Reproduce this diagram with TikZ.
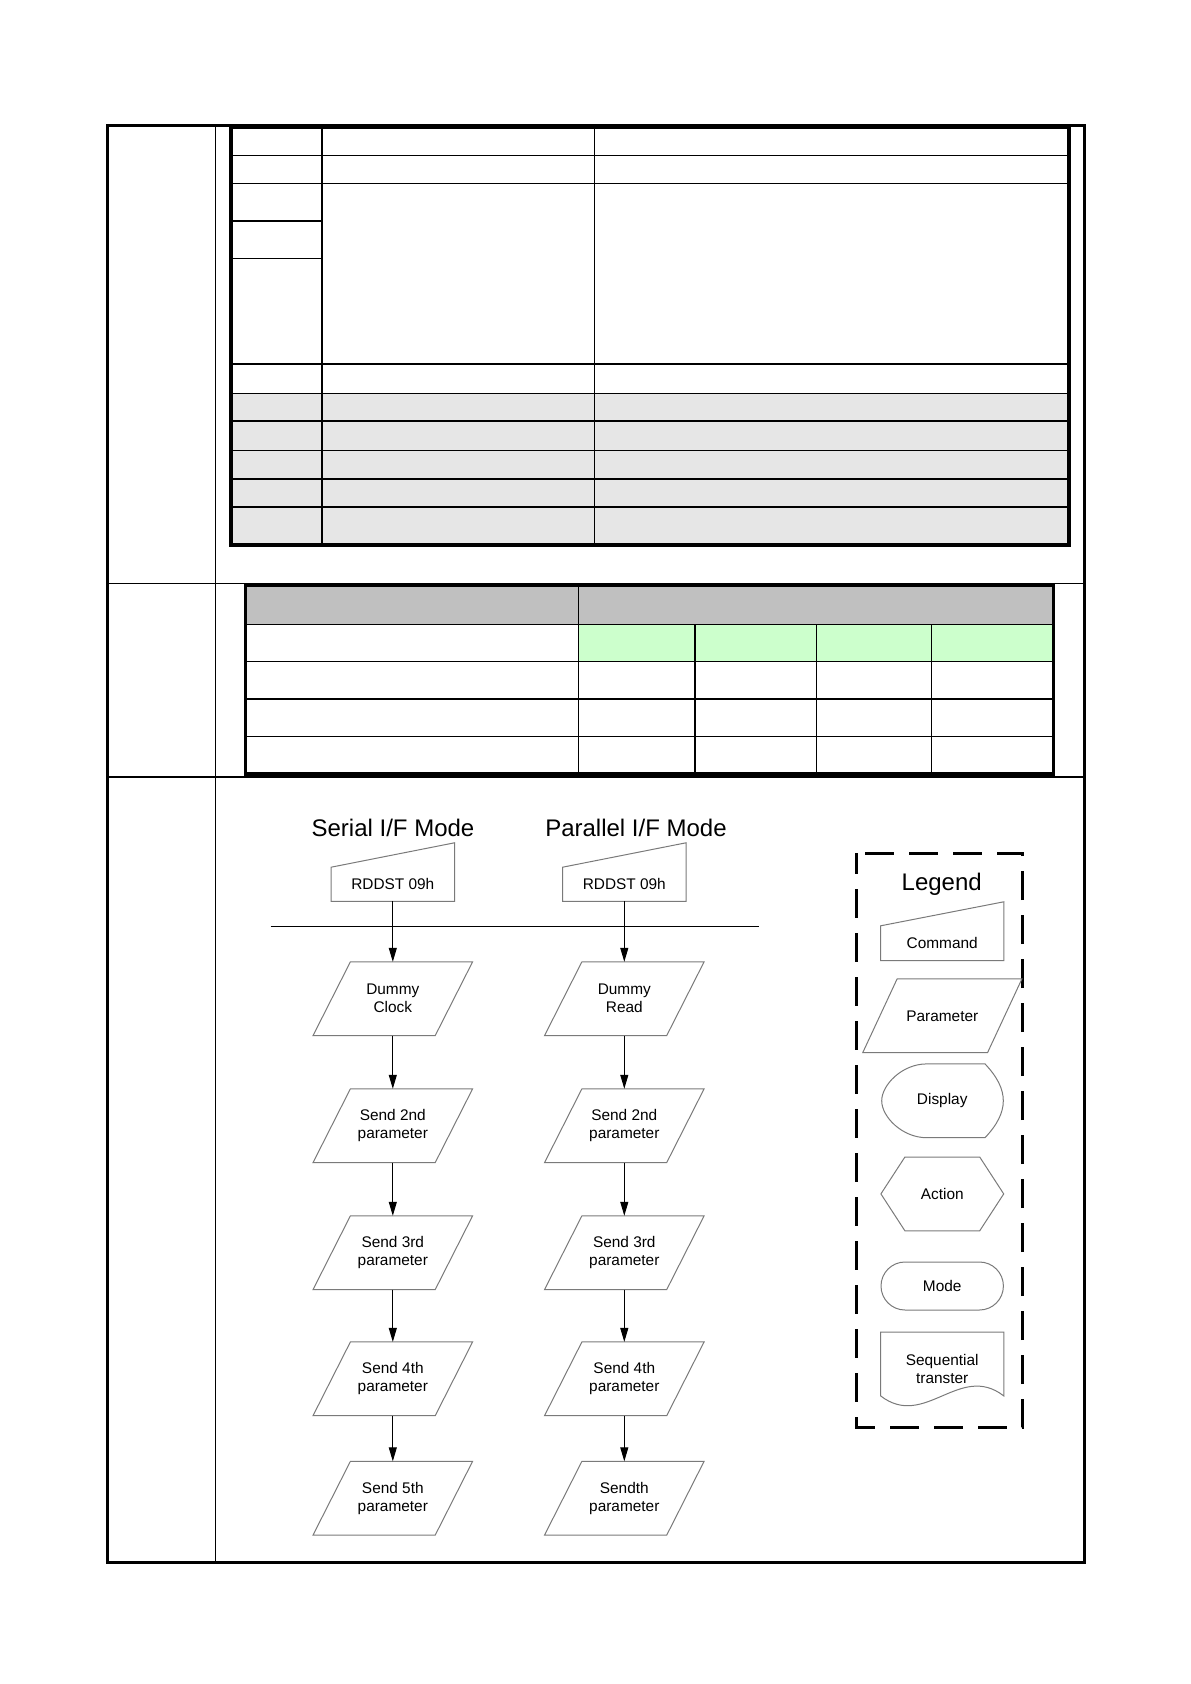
\documentclass[tikz,border=0pt]{standalone}
\usepackage{fontspec}
\setmainfont{Liberation Sans}
\usetikzlibrary{arrows.meta}

\definecolor{hdrgray}{HTML}{C0C0C0}
\definecolor{rowgray}{HTML}{E6E6E6}
\definecolor{okgreen}{HTML}{CCFFCC}
\definecolor{shapegray}{HTML}{7A7A7A}

\tikzset{
  outl/.style={draw=shapegray, line width=0.5pt},
  txt/.style={font=\fontsize{7.7}{9}\selectfont, align=center, inner sep=0pt},
  cmdbox/.style={txt, minimum width=61.3pt, minimum height=16.7pt},
  parabox/.style={txt, minimum width=60.7pt, minimum height=36.5pt},
  title/.style={font=\fontsize{12}{14}\selectfont, inner sep=0pt},
  flow/.style={-{Triangle[length=7pt,width=4pt]}, line width=0.5pt},
  gridthin/.style={line width=0.5pt},
  gridmid/.style={line width=1pt},
  gridthick/.style={line width=1.6pt},
}

\begin{document}
\begin{tikzpicture}[x=0.5pt,y=-0.5pt]
\useasboundingbox (0,0) rectangle (1190,1684);

% page frame
\draw[line width=1.5pt] (107,126) rectangle (1084,1562);
\draw[gridthin] (215.5,126) -- (215.5,1562);
\draw[gridthin] (107,583.3) -- (1084,583.3);
\draw[gridmid] (107,776.5) -- (1084,776.5);

% upper table
\fill[rowgray] (231,393.3) rectangle (1069,545);
\foreach \y in {155.7,183.5,393.3,450.3}
  \draw[gridthin] (231,\y) -- (1069,\y);
\foreach \y in {364.5,421.5,479,507.3}
  \draw[gridmid] (231,\y) -- (1069,\y);
\draw[gridmid] (231,221) -- (322,221);
\draw[gridthin] (231,258.3) -- (322,258.3);
\draw[gridmid] (322,127) -- (322,545);
\draw[gridthin] (594,127) -- (594,545);
\draw[gridthick] (231,127) rectangle (1069,545);

% lower table
\fill[hdrgray] (245.5,585) rectangle (1053.5,624);
\fill[okgreen] (578.4,624) rectangle (1053.5,661);
\foreach \y in {624,661,736}
  \draw[gridthin] (245.5,\y) -- (1053.5,\y);
\draw[gridmid] (245.5,698.7) -- (1053.5,698.7);
\draw[gridthin] (578.4,585) -- (578.4,774);
\draw[gridmid] (694.5,624) -- (694.5,774);
\foreach \x in {816.3,931.7}
  \draw[gridthin] (\x,624) -- (\x,774);
\draw[gridthick] (245.5,585) rectangle (1053.5,774);

% flow: serial and parallel
\node[title] (sertitle) at (393,828) {Serial I/F Mode};
\node[title] (partitle) at (636,828) {Parallel I/F Mode};
\node[cmdbox] (scmd) at (392.8,884.3) {RDDST 09h};
\node[cmdbox] (pcmd) at (624.3,884.3) {RDDST 09h};
\coordinate (barl) at (270.7,926.3);
\coordinate (barr) at (759,926.3);
\draw[line width=0.5pt] (barl) -- (barr);

\node[parabox] (s1) at (392.8,998.7) {Dummy\\Clock};
\node[parabox] (s2) at (392.8,1125.7) {Send 2nd\\parameter};
\node[parabox] (s3) at (392.8,1252.7) {Send 3rd\\parameter};
\node[parabox] (s4) at (392.8,1378.8) {Send 4th\\parameter};
\node[parabox] (s5) at (392.8,1498.2) {Send 5th\\parameter};
\node[parabox] (p1) at (624.3,998.7) {Dummy\\Read};
\node[parabox] (p2) at (624.3,1125.7) {Send 2nd\\parameter};
\node[parabox] (p3) at (624.3,1252.7) {Send 3rd\\parameter};
\node[parabox] (p4) at (624.3,1378.8) {Send 4th\\parameter};
\node[parabox] (p5) at (624.3,1498.2) {Sendth\\parameter};

\foreach \n in {scmd,pcmd}
  \draw[outl] (\n.north west) -- (\n.south west) -- (\n.south east)
    -- ([yshift=12.2pt]\n.north east) -- cycle;
\foreach \n in {s1,s2,s3,s4,s5,p1,p2,p3,p4,p5}
  \draw[outl] ([xshift=-9.35pt]\n.south west) -- ([xshift=-9.35pt]\n.south east)
    -- ([xshift=9.35pt]\n.north east) -- ([xshift=9.35pt]\n.north west) -- cycle;

\draw[flow] (scmd) -- (s1);
\draw[flow] (s1) -- (s2);
\draw[flow] (s2) -- (s3);
\draw[flow] (s3) -- (s4);
\draw[flow] (s4) -- (s5);
\draw[flow] (pcmd) -- (p1);
\draw[flow] (p1) -- (p2);
\draw[flow] (p2) -- (p3);
\draw[flow] (p3) -- (p4);
\draw[flow] (p4) -- (p5);

% legend
\draw[line width=1.5pt, dash pattern=on 14.5pt off 7.5pt, dash phase=4pt]
  (856.5,853) rectangle (1022.7,1427.5);
\node[title] (lgtitle) at (941.7,884) {Legend};
\node[cmdbox, minimum width=61.15pt, minimum height=17pt] (lgcmd) at (942.2,943.2) {Command};
\node[parabox, minimum width=62pt] (lgpar) at (942.3,1015.8) {Parameter};
\node[txt, minimum width=29pt, minimum height=36.9pt] (lgdisp) at (942.2,1100.8) {Display};
\node[txt, minimum width=37pt, minimum height=36.5pt] (lgact) at (942.3,1193.9) {Action};
\node[txt, outl, rounded corners=12pt, minimum width=61.2pt, minimum height=24pt] (lgmode) at (942.2,1286) {Mode};
\node[txt, minimum width=61.15pt, minimum height=31.5pt] (lgseq) at (942.2,1368.5) {Sequential\\transter};

\draw[outl] (lgcmd.north west) -- (lgcmd.south west) -- (lgcmd.south east)
  -- ([yshift=12pt]lgcmd.north east) -- cycle;
\draw[outl] ([xshift=-8.6pt]lgpar.south west) -- ([xshift=-8.6pt]lgpar.south east)
  -- ([xshift=8.6pt]lgpar.north east) -- ([xshift=8.6pt]lgpar.north west) -- cycle;
\draw[outl] ([xshift=-7.75pt,yshift=18.45pt]lgdisp.center) -- ([xshift=21.4pt,yshift=18.45pt]lgdisp.center)
  .. controls ([xshift=27.5pt,yshift=12pt]lgdisp.center) and ([xshift=30.55pt,yshift=6pt]lgdisp.center) .. ([xshift=30.55pt]lgdisp.center)
  .. controls ([xshift=30.55pt,yshift=-6pt]lgdisp.center) and ([xshift=27.5pt,yshift=-12pt]lgdisp.center) .. ([xshift=21.4pt,yshift=-18.45pt]lgdisp.center)
  -- ([xshift=-7.75pt,yshift=-18.45pt]lgdisp.center)
  .. controls ([xshift=-20pt,yshift=-18.45pt]lgdisp.center) and ([xshift=-30.25pt,yshift=-8pt]lgdisp.center) .. ([xshift=-30.25pt]lgdisp.center)
  .. controls ([xshift=-30.25pt,yshift=8pt]lgdisp.center) and ([xshift=-20pt,yshift=18.45pt]lgdisp.center) .. cycle;
\draw[outl] (lgact.north west) -- (lgact.north east) -- ([xshift=12pt]lgact.east)
  -- (lgact.south east) -- (lgact.south west) -- ([xshift=-12pt]lgact.west) -- cycle;
\draw[outl] ([yshift=2.25pt]lgseq.north west) -- ([yshift=2.25pt]lgseq.south west)
  .. controls ([xshift=22pt,yshift=-14.75pt]lgseq.south west) and ([xshift=-22pt,yshift=19.25pt]lgseq.south east) .. ([yshift=2.25pt]lgseq.south east)
  -- ([yshift=2.25pt]lgseq.north east) -- cycle;
\end{tikzpicture}
\end{document}
